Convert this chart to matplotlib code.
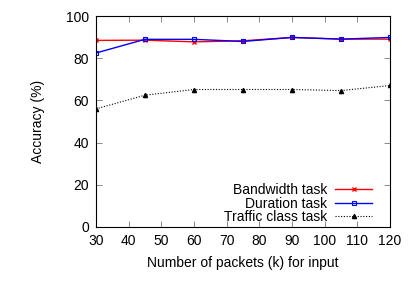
import matplotlib
matplotlib.use("Agg")
import matplotlib.pyplot as plt

plt.rcParams['font.family'] = ['Liberation Sans', 'DejaVu Sans']

# 数据
packets = [30, 45, 60, 75, 90, 105, 120]
bandwidth = [88.5, 88.6, 87.8, 88.3, 89.9, 89.1, 89.1]
duration = [82.5, 89.0, 89.0, 88.0, 89.9, 89.1, 89.9]
traffic_class = [56.0, 62.5, 65.2, 65.2, 65.2, 64.7, 67.1]

xticks = [30, 40, 50, 60, 70, 80, 90, 100, 110, 120]
yticks = [0, 20, 40, 60, 80, 100]

fig = plt.figure(figsize=(4.15, 2.99), dpi=100)
ax = fig.add_axes([0.231, 0.241, 0.709, 0.705])

ax.plot(packets, bandwidth, color='#ff0000', lw=1, marker='x', ms=3.5,
        mew=1, label='Bandwidth task')
ax.plot(packets, duration, color='#0000ff', lw=1, marker='s', ms=3.5,
        mfc='none', mew=0.8, label='Duration task')
ax.plot(packets, traffic_class, color='black', lw=0.8, ls=(0, (1, 1.5)),
        marker='^', ms=3, label='Traffic class task')

ax.set_xlim(30, 120)
ax.set_ylim(0, 100)
ax.set_xticks(xticks)
ax.set_yticks(yticks)
ax.tick_params(direction='in', length=4, width=0.6, labelsize=10,
               top=True, right=True, color='#777777', pad=5)
for s in ax.spines.values():
    s.set_linewidth(0.8)

ax.set_xlabel('Number of packets (k) for input', fontsize=10, labelpad=5.5)
ax.set_ylabel('Accuracy (%)', fontsize=10, labelpad=15)

ax.legend(loc='lower right', bbox_to_anchor=(0.982, -0.045), frameon=False,
          markerfirst=False, fontsize=10, handlelength=2.65,
          labelspacing=-0.05, handletextpad=0.6)

fig.savefig('out.png', dpi=100)
